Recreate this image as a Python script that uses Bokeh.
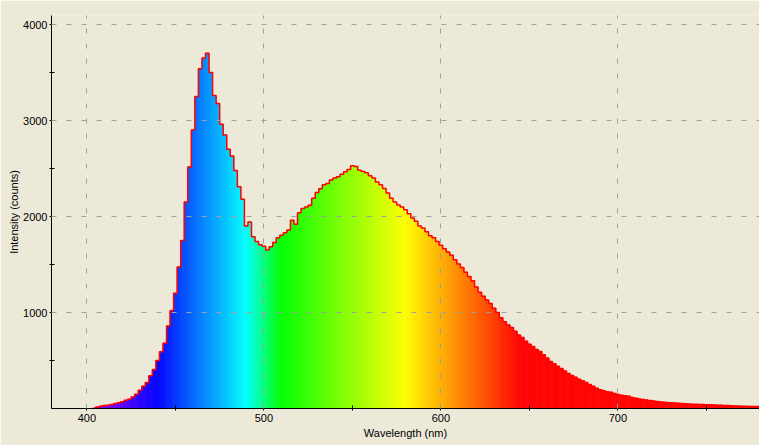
import re
from bokeh.plotting import figure
from bokeh.models import FixedTicker, Range1d
from bokeh.embed import file_html
from bokeh.resources import INLINE

# ---- data ----
wavelengths = list(range(380, 781, 2))  # nm, sample centres
intensity = [
    0, 0, 0, 0, 0, 0, 0, 0, 0, 0, 0, 0,          # 380-402
    5, 15, 24, 30, 34,                            # 404-412
    42, 52, 60, 70, 85,
    97, 120, 148, 190, 232,
    270, 340, 405, 500, 590,
    680, 860, 1020, 1200, 1475,
    1750, 2150, 2517, 2900, 3250,
    3540, 3650, 3700, 3500, 3260,
    3177, 2960, 2850, 2700, 2630,
    2480, 2310, 2180, 1900, 1944,
    1790, 1740, 1705, 1690, 1650,
    1684, 1730, 1780, 1805, 1830,
    1860, 1960, 1920, 2040, 2083,
    2100, 2118, 2190, 2250, 2290,
    2330, 2344, 2380, 2400, 2413,
    2440, 2465, 2490, 2530, 2520,
    2482, 2470, 2455, 2425, 2400,
    2360, 2330, 2292, 2245, 2190,
    2150, 2120, 2100, 2070, 2030,
    1985, 1950, 1900, 1880, 1840,
    1800, 1780, 1740, 1700, 1665,
    1630, 1597, 1550, 1505, 1470,
    1420, 1375, 1330, 1265, 1210,
    1170, 1130, 1094, 1045, 1000,
    945, 905, 870, 845, 805,
    765, 740, 700, 670, 645,
    615, 595, 560, 525, 490,
    465, 440, 417, 390, 365,
    345, 325, 305, 290, 272,
    250, 232, 210, 195, 185,
    175, 168, 155, 145, 138,
    132, 127, 115, 108, 100,
    94, 88, 84, 78, 73,
    69, 66, 62, 59, 57,
    54, 51, 49, 47, 45,
    43, 42, 41, 39, 38,
    37, 35, 34, 32, 30,
    28, 27, 25, 24, 23,
    22, 21, 20, 20,
]
x_major_ticks = [400, 500, 600, 700]
x_minor_ticks = [450, 550, 650, 750]
y_major_ticks = [1000, 2000, 3000, 4000]
y_minor_ticks = [500, 1500, 2500, 3500]
x_label = "Wavelength (nm)"
y_label = "Intensity (counts)"

BG = "#ECE9D8"
FONT = "Liberation Sans"


def wl_color(wl):
    """Map a wavelength (nm) to a spectral RGB colour."""
    if wl < 440:
        r, g, b = (440 - wl) / 60.0, 0.0, 1.0
    elif wl < 490:
        r, g, b = 0.0, (wl - 440) / 50.0, 1.0
    elif wl < 510:
        r, g, b = 0.0, 1.0, (510 - wl) / 20.0
    elif wl < 580:
        r, g, b = (wl - 510) / 70.0, 1.0, 0.0
    elif wl < 645:
        r, g, b = 1.0, (645 - wl) / 65.0, 0.0
    else:
        r, g, b = 1.0, 0.0, 0.0
    clip = lambda v: max(0, min(255, int(round(v * 255))))
    return "#%02x%02x%02x" % (clip(r), clip(g), clip(b))


p = figure(
    width=759, height=445,
    x_range=Range1d(380, 780), y_range=Range1d(0, 4094),
    output_backend="svg", toolbar_location=None,
    min_border_left=51, min_border_right=0, min_border_top=15, min_border_bottom=37,
    background_fill_color=BG, border_fill_color=BG, outline_line_color=None,
)

# coloured fill under the spectrum, split into thin slices for a smooth gradient
step = wavelengths[1] - wavelengths[0]
sub = 4
lefts, rights, tops, cols = [], [], [], []
for wl, v in zip(wavelengths, intensity):
    for k in range(sub):
        l = wl - step / 2 + k * step / sub
        r = l + step / sub
        lefts.append(l)
        rights.append(r)
        tops.append(v)
        cols.append(wl_color((l + r) / 2))
p.quad(left=lefts, right=rights, bottom=0, top=tops,
       fill_color=cols, line_color=cols, line_width=0.6)

# red stepped outline
xs = [w for w, v in zip(wavelengths, intensity) if v > 0]
ys = [v for v in intensity if v > 0]
p.step(x=xs, y=ys, mode="center", line_color="#FF0000", line_width=1.5)

# grid
p.xgrid.ticker = FixedTicker(ticks=x_major_ticks)
p.ygrid.ticker = FixedTicker(ticks=y_major_ticks)
for g in (p.xgrid[0], p.ygrid[0]):
    g.grid_line_color = "#A0A0A0"
    g.grid_line_dash = "5 10"
    g.grid_line_width = 1
    g.level = "overlay"

# axes
p.xaxis.ticker = FixedTicker(ticks=x_major_ticks, minor_ticks=x_minor_ticks)
p.yaxis.ticker = FixedTicker(ticks=y_major_ticks, minor_ticks=y_minor_ticks)
p.xaxis.axis_label = x_label
p.yaxis.axis_label = y_label
for ax in (p.xaxis[0], p.yaxis[0]):
    ax.axis_line_color = "black"
    ax.axis_line_width = 1
    ax.major_tick_line_color = "black"
    ax.minor_tick_line_color = "black"
    ax.major_tick_in = 3
    ax.major_tick_out = 2
    ax.minor_tick_in = 3
    ax.minor_tick_out = 2
    ax.major_label_text_font = FONT
    ax.major_label_text_font_size = "11px"
    ax.major_label_text_color = "black"
    ax.axis_label_text_font = FONT
    ax.axis_label_text_font_size = "11px"
    ax.axis_label_text_font_style = "normal"
    ax.axis_label_text_color = "black"
p.xaxis.major_label_standoff = 3
p.xaxis.axis_label_standoff = 2
p.yaxis.major_label_standoff = 2
p.yaxis.axis_label_standoff = 0

html = file_html(p, INLINE)
html = re.sub(r"<body>", '<body style="background:%s">' % BG, html, count=1)
open("out.html", "w").write(html)
